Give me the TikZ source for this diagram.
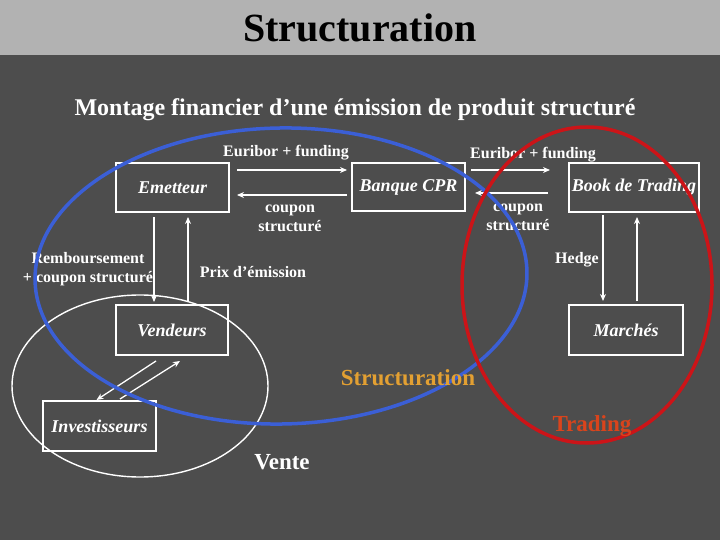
\documentclass[tikz,border=0pt]{standalone}
\usepackage{fontspec}
\setmainfont{Liberation Serif}
\usetikzlibrary{arrows.meta,calc}
\definecolor{bg}{HTML}{4D4D4D}
\definecolor{titlebar}{HTML}{B2B2B2}
\definecolor{sblue}{HTML}{3B5FD6}
\definecolor{sred}{HTML}{CC1418}
\definecolor{sorange}{HTML}{E3A032}
\definecolor{tred}{HTML}{D9441C}
\begin{document}
\begin{tikzpicture}[x=1pt,y=-1pt,
  box/.style={draw=white, line width=2pt, inner sep=0pt, text=white,
    font=\fontsize{18}{21}\selectfont\bfseries\itshape},
  lbl/.style={text=white, font=\fontsize{16}{19}\selectfont\bfseries, align=center, inner sep=0pt},
  big/.style={font=\fontsize{23}{27}\selectfont\bfseries, inner sep=0pt},
  arr/.style={draw=white, line width=1.3pt, -{Stealth[length=7pt,width=6pt]}},
  zone/.style={line width=3.5pt}]
\useasboundingbox (0,0) rectangle (720,540);
\fill[bg] (0,0) rectangle (720,540);
\fill[titlebar] (0,0) rectangle (720,55);
\node[font=\fontsize{40}{44}\selectfont\bfseries, text=black, inner sep=0pt] (title) at (360,28) {Structuration};
\node[lbl, font=\fontsize{24}{28}\selectfont\bfseries] (sub) at (355,110) {Montage financier d’une émission de produit structuré};

% white ellipse (Vente)
\draw[white, line width=1.4pt] (140,386) ellipse [x radius=128, y radius=91];

% boxes
\node[box, minimum width=113pt, minimum height=49pt] (em) at (172.5,187.5) {Emetteur};
\node[box, minimum width=113pt, minimum height=48pt] (bq) at (408.5,187) {Banque CPR};
\node[box, minimum width=130pt, minimum height=49pt] (bk) at (634,187.5) {Book de Trading};
\node[box, minimum width=112pt, minimum height=50pt] (vd) at (172,330) {Vendeurs};
\node[box, minimum width=114pt, minimum height=50pt] (mk) at (626,330) {Marchés};
\node[box, minimum width=113pt, minimum height=50pt] (inv) at (99.5,426) {Investisseurs};

% horizontal arrows
\draw[arr] ($(em.east)+(7,-17.5)$) -- ($(bq.west)+(-4,-17)$);
\draw[arr] ($(bq.west)+(-4,8)$) -- ($(em.east)+(7,7.5)$);
\draw[arr] ($(bq.east)+(5,-17)$) -- ($(bk.west)+(-18,-17.5)$);
\draw[arr] ($(bk.west)+(-20,5.5)$) -- ($(bq.east)+(9,6)$);
% vertical arrows
\draw[arr] ($(em.south)+(-18.5,4)$) -- ($(vd.north)+(-18,-2)$);
\draw[arr] ($(vd.north)+(16,-2)$) -- ($(em.south)+(15.5,4)$);
\draw[arr] ($(bk.south)+(-31,2)$) -- ($(mk.north)+(-23,-3)$);
\draw[arr] ($(mk.north)+(11,-3)$) -- ($(bk.south)+(3,4)$);
% diagonal arrows
\draw[arr] ($(vd.south)+(-16,5)$) -- ($(inv.north)+(-3,0)$);
\draw[arr] ($(inv.north)+(20.5,-1)$) -- ($(vd.south)+(8,5)$);

% labels
\node[lbl] (l1) at (286,153) {Euribor + funding};
\node[lbl] (l2) at (533,155) {Euribor + funding};
\node[lbl] (l3) at (290,218) {coupon\\structuré};
\node[lbl] (l4) at (518,217) {coupon\\structuré};
\node[lbl] (l5) at (88,269) {Remboursement\\+ coupon structuré};
\node[lbl] (l6) at (253,272) {Prix d’émission};
\node[lbl] (l7) at (577,260) {Hedge};

% zones
\draw[sblue, zone, rotate around={1:(281,276)}] (281,276) ellipse [x radius=246, y radius=148];
\draw[sred, zone] (587,285) ellipse [x radius=125, y radius=158];

\node[big, text=sorange] (zs) at (408,378) {Structuration};
\node[big, text=tred] (zt) at (592,426) {Trading};
\node[big, text=white] (zv) at (282,462) {Vente};
\end{tikzpicture}
\end{document}
